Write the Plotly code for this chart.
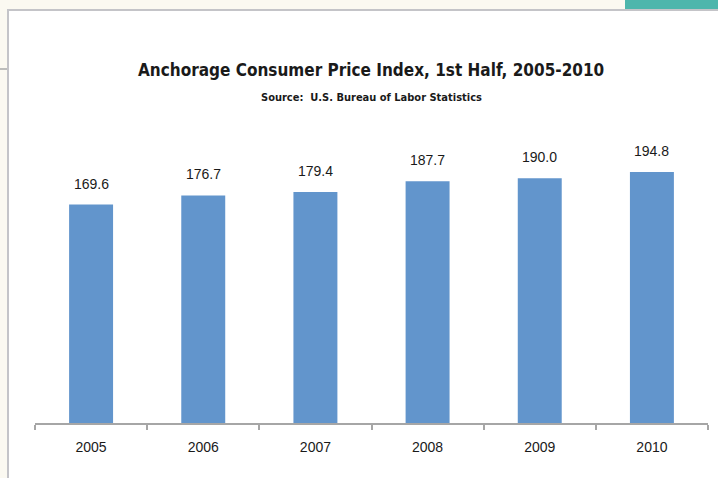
import plotly.graph_objects as go

years = ["2005", "2006", "2007", "2008", "2009", "2010"]
cpi = [169.6, 176.7, 179.4, 187.7, 190.0, 194.8]
title_text = "Anchorage Consumer Price Index, 1st Half, 2005-2010"
subtitle_text = "Source:  U.S. Bureau of Labor Statistics"

W, H = 718, 478
L, R, T, B = 35, 10, 101, 55
pw, ph = W - L - R, H - T - B


def px(x):
    return (x - L) / pw


def py(y):
    return (H - B - y) / ph


fig = go.Figure()
fig.add_trace(go.Bar(x=years, y=cpi, marker=dict(color="#6295CC", line=dict(width=0)),
                     hoverinfo="skip"))

for i, v in enumerate(cpi):
    fig.add_annotation(x=i, y=v, text=f"{v:.1f}", showarrow=False, yanchor="middle",
                       yshift=21, font=dict(family="Liberation Sans, Arial", size=14, color="#1a1a1a"))

fig.add_annotation(xref="paper", yref="paper", x=px(371), y=py(70), text="<b>" + title_text + "</b>",
                   showarrow=False, xanchor="center", yanchor="middle",
                   font=dict(family="DejaVu Sans Condensed", size=17, color="#1a1a1a"))
fig.add_annotation(xref="paper", yref="paper", x=px(371), y=py(97), text="<b>" + subtitle_text + "</b>",
                   showarrow=False, xanchor="center", yanchor="middle",
                   font=dict(family="DejaVu Sans Condensed", size=11, color="#1a1a1a"))

shapes = [
    dict(type="rect", xref="paper", yref="paper", x0=px(625), x1=px(730), y0=py(-5), y1=py(10),
         fillcolor="#4DB6AC", line=dict(width=0), layer="below"),
    dict(type="rect", xref="paper", yref="paper", x0=px(8), x1=px(740), y0=py(500), y1=py(10),
         fillcolor="white", line=dict(color="#C4C4C8", width=2), layer="below"),
    dict(type="line", xref="paper", yref="paper", x0=px(-5), x1=px(7), y0=py(69), y1=py(69),
         line=dict(color="#A8A8A8", width=1.5), layer="below"),
]

fig.update_layout(
    width=W, height=H,
    margin=dict(l=L, r=R, t=T, b=B),
    paper_bgcolor="#FBF9F1",
    plot_bgcolor="rgba(0,0,0,0)",
    bargap=0.608,
    showlegend=False,
    shapes=shapes,
    xaxis=dict(type="category", range=[-0.5, len(years) - 0.5], showline=True, linecolor="#A6A6A6",
               linewidth=2, ticks="outside", ticklen=5,
               tickcolor="#A6A6A6", tickwidth=1.5, tickson="boundaries", showgrid=False,
               tickfont=dict(family="Liberation Sans, Arial", size=14, color="#1a1a1a"),
               ticklabelstandoff=10),
    yaxis=dict(visible=False, range=[0, 250]),
)

fig.write_html("out.html", config={"displayModeBar": False},
               post_script="document.body.style.margin='0';document.body.style.padding='0';")
